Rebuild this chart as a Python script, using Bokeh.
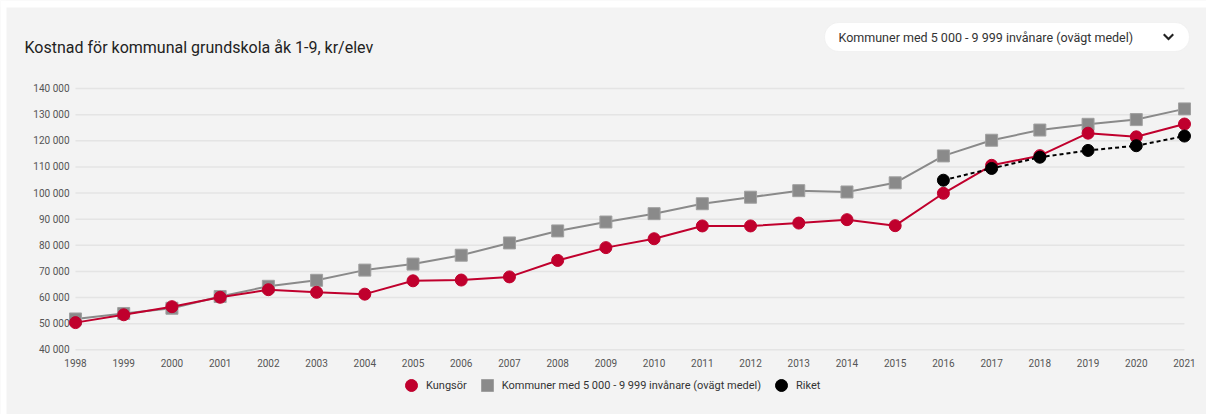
from bokeh.plotting import figure
from bokeh.models import (Range1d, Label, Legend, LegendItem,
                          BoxAnnotation, PolyAnnotation)
from bokeh.core.properties import value
from bokeh.embed import file_html
from bokeh.resources import INLINE

# ---- data -------------------------------------------------------------
years = list(range(1998, 2022))
kungsor = [50400, 53400, 56500, 60100, 63000, 62000, 61300, 66400, 66700, 67900,
           74200, 79100, 82500, 87400, 87400, 88500, 89800, 87500, 99900, 110600,
           114300, 122900, 121500, 126400]
kommuner = [51800, 53900, 55900, 60400, 64300, 66600, 70500, 72800, 76200, 80900,
            85500, 88900, 92100, 95900, 98400, 100900, 100400, 103900, 114200, 120200,
            124100, 126300, 128100, 132200]
riket_years = [2016, 2017, 2018, 2019, 2020, 2021]
riket = [104900, 109400, 113700, 116300, 118100, 121800]
y_ticks = [40000, 50000, 60000, 70000, 80000, 90000, 100000, 110000, 120000, 130000, 140000]
y_tick_labels = [f"{t:,}".replace(",", " ") for t in y_ticks]
x_tick_labels = [str(y) for y in years]

title_text = "Kostnad för kommunal grundskola åk 1-9, kr/elev"
dropdown_text = "Kommuner med 5 000 - 9 999 invånare (ovägt medel)"
legend_names = ["Kungsör", "Kommuner med 5 000 - 9 999 invånare (ovägt medel)", "Riket"]

# ---- style ------------------------------------------------------------
BG = "#f3f3f3"
RED = "#c0002d"
GRAY = "#8a8a8a"
FONT = "Roboto"
W, H = 1206, 414

p = figure(width=W, height=H, output_backend="svg", toolbar_location=None,
           x_range=Range1d(1996.4445, 2021.4565), y_range=Range1d(15239, 173678),
           min_border_left=0, min_border_right=0, min_border_top=0, min_border_bottom=0)
p.background_fill_color = BG
p.border_fill_color = BG
p.outline_line_color = None
p.grid.visible = False
p.axis.visible = False

# white page strips (top/left) outside the chart card
p.add_layout(BoxAnnotation(left=0, right=W, top=H, bottom=H - 7,
                           left_units="screen", right_units="screen",
                           top_units="screen", bottom_units="screen",
                           fill_color="white", fill_alpha=1, line_color=None))
p.add_layout(BoxAnnotation(left=0, right=6, top=H, bottom=0,
                           left_units="screen", right_units="screen",
                           top_units="screen", bottom_units="screen",
                           fill_color="white", fill_alpha=1, line_color=None))

# grid lines spanning the year range
p.segment(x0=[years[0]] * len(y_ticks), x1=[years[-1]] * len(y_ticks),
          y0=y_ticks, y1=y_ticks, line_color="#e4e4e4", line_width=1.5)

# tick labels
p.text(x=[years[0]] * len(y_ticks), y=y_ticks, text=y_tick_labels,
       x_offset=-6, text_align="right", text_baseline="middle",
       text_font=value(FONT), text_font_size="10px", text_color="#555555")
p.text(x=years, y=[y_ticks[0]] * len(years), text=x_tick_labels,
       y_offset=13, text_align="center", text_baseline="middle",
       text_font=value(FONT), text_font_size="10px", text_color="#555555")

# series
p.line(years, kommuner, line_color=GRAY, line_width=2)
r_kom = p.scatter(years, kommuner, marker="square", size=12, fill_color=GRAY,
                  line_color="#a0a0a0", line_width=1)
p.line(years, kungsor, line_color=RED, line_width=2)
r_kun = p.scatter(years, kungsor, marker="circle", size=12, fill_color=RED,
                  line_color=RED, line_width=1)
p.line(riket_years, riket, line_color="black", line_width=2, line_dash="4 3")
r_rik = p.scatter(riket_years, riket, marker="circle", size=12, fill_color="black",
                  line_color="black", line_width=1)

legend = Legend(items=[LegendItem(label=legend_names[0], renderers=[r_kun]),
                       LegendItem(label=legend_names[1], renderers=[r_kom]),
                       LegendItem(label=legend_names[2], renderers=[r_rik])],
                orientation="horizontal", location=(396, 14),
                glyph_width=30, glyph_height=30, label_standoff=0, spacing=5,
                padding=0, margin=0, background_fill_alpha=0, border_line_color=None,
                label_text_font=FONT, label_text_font_size="11px",
                label_text_color="#333333")
p.add_layout(legend)

# title
p.add_layout(Label(x=24, y=H - 47, x_units="screen", y_units="screen", text=title_text,
                   text_font=FONT, text_font_size="16px", text_color="#222222",
                   text_baseline="middle", text_align="left"))

# dropdown box
p.add_layout(BoxAnnotation(left=824, right=1189, top=H - 22, bottom=H - 51,
                           left_units="screen", right_units="screen",
                           top_units="screen", bottom_units="screen",
                           fill_color="white", fill_alpha=1, line_color="#e2e2e2",
                           line_width=1, border_radius=15))
p.add_layout(Label(x=838, y=H - 37, x_units="screen", y_units="screen", text=dropdown_text,
                   text_font=FONT, text_font_size="12.5px", text_color="#333333",
                   text_baseline="middle", text_align="left"))
cx, cy = 1168, H - 37
p.add_layout(PolyAnnotation(xs=[cx - 5.5, cx - 4, cx, cx + 4, cx + 5.5, cx],
                            ys=[cy + 2.5, cy + 4, cy, cy + 4, cy + 2.5, cy - 3],
                            xs_units="screen", ys_units="screen",
                            fill_color="#222222", fill_alpha=1, line_color=None))

open("out.html", "w").write(file_html(p, INLINE))
